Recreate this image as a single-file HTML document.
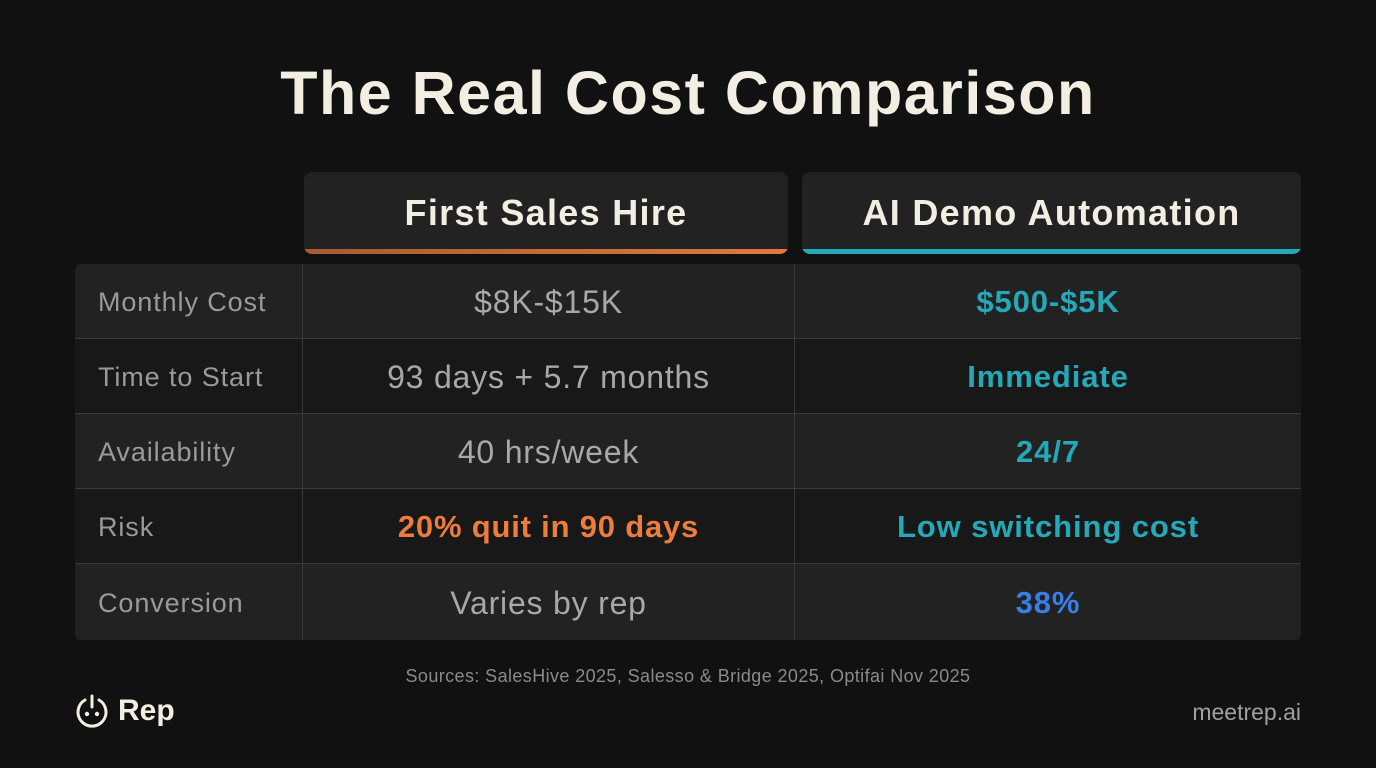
<!DOCTYPE html>
<html><head><meta charset="utf-8"><style>
*{margin:0;padding:0;box-sizing:border-box}
body{width:1376px;height:768px;background:#111111;font-family:"Liberation Sans",sans-serif;position:relative;overflow:hidden}
.abs{position:absolute}
h1{position:absolute;left:0;top:58px;width:1376px;text-align:center;font-size:61px;font-weight:bold;color:#f2eee2;letter-spacing:1.5px}
.hdr{position:absolute;top:172px;height:82px;background:#222222;border-radius:8px;color:#f2eee2;font-weight:bold;font-size:36px;letter-spacing:1.3px;display:flex;align-items:center;justify-content:center;overflow:hidden}
.hdr .bar{position:absolute;left:0;right:0;bottom:0;height:5px}
.row{position:absolute;left:75px;width:1226px;height:75px;border-bottom:1px solid #3a3a3a}
.cell{position:absolute;top:0;height:100%;display:flex;align-items:center;font-size:32px;letter-spacing:0.8px;padding-top:2px}
.lbl{left:0;width:227px;padding-left:23px;color:#9a9a9a;font-size:27px;letter-spacing:0.9px}
.c1{left:227px;width:492px;justify-content:center;color:#a8a8a8;border-left:1px solid #3a3a3a}
.c2{left:719px;width:507px;justify-content:center;color:#25a9b8;font-weight:bold;border-left:1px solid #3a3a3a;font-size:31px;letter-spacing:0.9px}
</style></head><body>
<h1>The Real Cost Comparison</h1>
<div class="hdr" style="left:304px;width:484px">First Sales Hire<div class="bar" style="background:linear-gradient(90deg,#a85a30,#e07a3a)"></div></div>
<div class="hdr" style="left:802px;width:499px">AI Demo Automation<div class="bar" style="background:#25a9b8"></div></div>
<div class="abs" style="left:75px;top:264px;width:1226px;height:376px;border-radius:6px;overflow:hidden">
<div class="row" style="top:0;left:0;background:#222"><div class="cell lbl">Monthly Cost</div><div class="cell c1">$8K-$15K</div><div class="cell c2">$500-$5K</div></div>
<div class="row" style="top:75px;left:0;background:#181818"><div class="cell lbl">Time to Start</div><div class="cell c1">93 days + 5.7 months</div><div class="cell c2">Immediate</div></div>
<div class="row" style="top:150px;left:0;background:#222"><div class="cell lbl">Availability</div><div class="cell c1">40 hrs/week</div><div class="cell c2">24/7</div></div>
<div class="row" style="top:225px;left:0;background:#181818"><div class="cell lbl">Risk</div><div class="cell c1" style="color:#ee7d3c;font-weight:bold;font-size:31px">20% quit in 90 days</div><div class="cell c2">Low switching cost</div></div>
<div class="row" style="top:300px;left:0;height:76px;border-bottom:none;background:#222"><div class="cell lbl">Conversion</div><div class="cell c1">Varies by rep</div><div class="cell c2" style="color:#3a7ee8">38%</div></div>
</div>
<div class="abs" style="left:0;top:666px;width:1376px;text-align:center;color:#8a8a8a;font-size:18px;letter-spacing:0.4px">Sources: SalesHive 2025, Salesso &amp; Bridge 2025, Optifai Nov 2025</div>
<div class="abs" style="left:74px;top:693px;display:flex;align-items:center;gap:8px">
<svg width="36" height="36" viewBox="0 0 36 36"><path d="M11 7 A14 14 0 1 0 25 7" fill="none" stroke="#f2eee2" stroke-width="3" stroke-linecap="round"/><line x1="18" y1="3" x2="18" y2="14" stroke="#f2eee2" stroke-width="3" stroke-linecap="round"/><circle cx="13" cy="21" r="2.2" fill="#f2eee2"/><circle cx="23" cy="21" r="2.2" fill="#f2eee2"/></svg>
<span style="color:#f2eee2;font-weight:bold;font-size:30px">Rep</span></div>
<div class="abs" style="right:75px;top:699px;color:#a0a0a0;font-size:23px">meetrep.ai</div>
</body></html>
